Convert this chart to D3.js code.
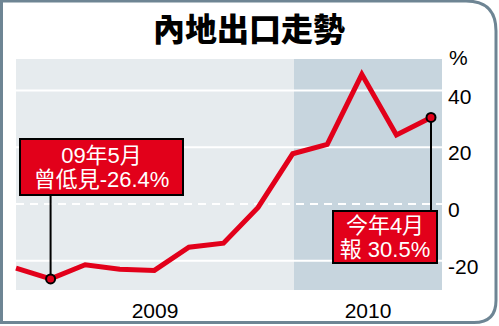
<!DOCTYPE html>
<html>
<head>
<meta charset="utf-8">
<script src="https://cdn.jsdelivr.net/npm/d3@7"></script>
<style>
  html, body { margin: 0; padding: 0; background: #fff; }
  svg { display: block; }
</style>
</head>
<body>
<svg id="chart" width="499" height="326" viewBox="0 0 499 326"></svg>
<script>
// Monthly export growth, Apr 2009 - Apr 2010 (%)
const months = ["2009-04", "2009-05", "2009-06", "2009-07", "2009-08", "2009-09", "2009-10",
                "2009-11", "2009-12", "2010-01", "2010-02", "2010-03", "2010-04"];
const values = [-22.6, -26.4, -21.4, -23.0, -23.4, -15.2, -13.8, -1.2, 17.7, 21.0, 45.7, 24.3, 30.5];
const yTicks = [40, 20, 0, -20];
const yearLabels = ["2009", "2010"];
const title = "內地出口走勢";
const lowNote = ["09年5月", "曾低見-26.4%"];
const lastNote = ["今年4月", "報 30.5%"];

const svg = d3.select("#chart");
const W = 499, H = 326;
const plot = { left: 16, right: 442, top: 59, bottom: 290 };
const red = "#e2001a";
const font = "'Liberation Sans', 'Noto Sans CJK TC', sans-serif";

const x = d3.scalePoint()
    .domain(months)
    .range([16, 431]);

const y = d3.scaleLinear()
    .domain([-30.3, 51.1])
    .range([plot.bottom, plot.top]);

// frame, square on the left, rounded on the right
const r = 30;
svg.append("path")
    .attr("d", `M1.5,1 H${W - 3 - r} Q${W - 3},1 ${W - 3},${1 + r} V${H - 3.5 - 22} Q${W - 3},${H - 3.5} ${W - 3 - 22},${H - 3.5} H1.5 Z`)
    .attr("fill", "#fff")
    .attr("stroke", "#6e8594")
    .attr("stroke-width", 3);

// title
svg.append("text")
    .attr("x", 249)
    .attr("y", 27)
    .attr("text-anchor", "middle")
    .attr("dominant-baseline", "central")
    .attr("font-family", "'Noto Sans CJK TC', sans-serif")
    .attr("font-weight", 900)
    .attr("font-size", 32)
    .attr("fill", "#000")
    .text(title);

// backgrounds: 2009 light, 2010 darker
const split = 294;
svg.append("rect")
    .attr("x", plot.left).attr("y", plot.top)
    .attr("width", split - plot.left).attr("height", plot.bottom - plot.top)
    .attr("fill", "#e6ebee");
svg.append("rect")
    .attr("x", split).attr("y", plot.top)
    .attr("width", plot.right - split).attr("height", plot.bottom - plot.top)
    .attr("fill", "#c7d5de");

// gridlines
svg.selectAll("line.grid")
    .data(yTicks)
    .join("line")
    .attr("class", "grid")
    .attr("x1", plot.left).attr("x2", plot.right)
    .attr("y1", d => y(d)).attr("y2", d => y(d))
    .attr("stroke", "#fff")
    .attr("stroke-width", 2)
    .attr("stroke-dasharray", d => d === 0 ? "8,6" : null);

// y labels
svg.selectAll("text.ytick")
    .data(yTicks)
    .join("text")
    .attr("class", "ytick")
    .attr("x", 448)
    .attr("y", d => y(d) + 13)
    .attr("font-family", font)
    .attr("font-size", 21)
    .attr("fill", "#000")
    .text(d => d);

svg.append("text")
    .attr("x", 449).attr("y", 65)
    .attr("font-family", font)
    .attr("font-size", 21)
    .attr("fill", "#000")
    .text("%");

// year labels
svg.selectAll("text.year")
    .data(yearLabels)
    .join("text")
    .attr("class", "year")
    .attr("x", (d, i) => i === 0 ? (plot.left + split) / 2 : (split + plot.right) / 2)
    .attr("y", 318)
    .attr("text-anchor", "middle")
    .attr("font-family", font)
    .attr("font-size", 21)
    .attr("fill", "#000")
    .text(d => d);

// line
const line = d3.line()
    .x((d, i) => x(months[i]))
    .y(d => y(d));

svg.append("path")
    .datum(values)
    .attr("d", line)
    .attr("fill", "none")
    .attr("stroke", red)
    .attr("stroke-width", 5)
    .attr("stroke-linejoin", "miter");

// annotations
const minIdx = values.indexOf(d3.min(values));
const lastIdx = values.length - 1;

function note(idx, lines, box) {
    const px = x(months[idx]), py = y(values[idx]);
    const toward = box.y > py ? box.y : box.y + box.h;
    svg.append("line")
        .attr("x1", px).attr("x2", px)
        .attr("y1", py).attr("y2", toward)
        .attr("stroke", "#000")
        .attr("stroke-width", 2);
    svg.append("rect")
        .attr("x", box.x).attr("y", box.y)
        .attr("width", box.w).attr("height", box.h)
        .attr("fill", red)
        .attr("stroke", "#000")
        .attr("stroke-width", 2);
    svg.append("text")
        .attr("x", box.x + box.w / 2)
        .attr("y", box.y + box.h / 2)
        .attr("text-anchor", "middle")
        .attr("font-family", font)
        .attr("font-size", 22)
        .attr("fill", "#fff")
        .selectAll("tspan")
        .data(lines)
        .join("tspan")
        .attr("x", box.x + box.w / 2)
        .attr("dy", (d, i) => i === 0 ? -4.5 : 24.5)
        .text(d => d);
    svg.append("circle")
        .attr("cx", px).attr("cy", py)
        .attr("r", 4.5)
        .attr("fill", red)
        .attr("stroke", "#000")
        .attr("stroke-width", 2);
}

note(minIdx, lowNote, { x: 20, y: 139, w: 163, h: 56 });
note(lastIdx, lastNote, { x: 333, y: 211, w: 104, h: 52 });
</script>
</body>
</html>
